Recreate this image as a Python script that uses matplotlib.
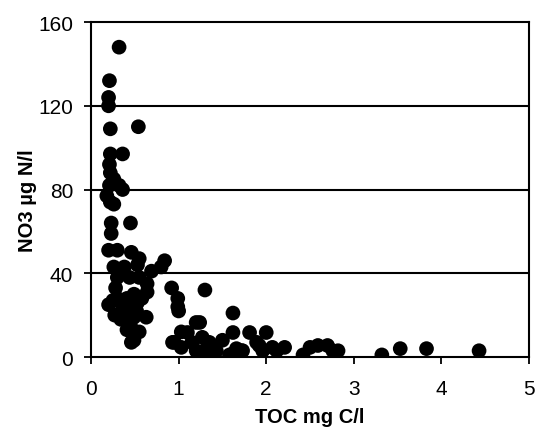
import matplotlib
matplotlib.use("Agg")
import matplotlib.pyplot as plt

# TOC (mg C/l) and NO3 (ug N/l)
toc = [0.32, 0.21, 0.20, 0.20, 0.22, 0.54, 0.22, 0.36,
       0.21, 0.22, 0.26, 0.32, 0.36, 0.21, 0.18, 0.22, 0.26,
       0.23, 0.45, 0.23, 0.20, 0.30, 0.46, 0.55, 0.38, 0.26,
       0.84, 0.80, 0.69, 0.30, 0.53, 0.44, 0.64, 0.55,
       0.92, 0.99, 0.99, 0.20, 0.30, 0.41, 0.53, 0.34, 0.63,
       0.49, 0.41, 0.55, 0.46, 0.49, 0.93, 1.03, 0.49, 0.41,
       0.64, 0.25, 1.30, 1.00, 1.62, 1.20, 1.10, 1.27, 1.62,
       1.81, 2.00, 0.95, 1.03, 1.20, 1.50, 1.43, 1.66, 1.73,
       1.89, 1.96, 1.32, 1.15, 1.27, 1.58, 1.35, 2.07, 1.92,
       2.21, 2.12, 2.42, 2.50, 2.59, 2.70, 2.82, 2.76, 3.32,
       3.53, 3.83, 4.43, 1.24, 1.41, 1.62, 1.72,
       0.28, 0.36, 0.45, 0.52, 0.58, 0.27]
no3 = [148, 132, 124, 120, 109, 110, 97, 97,
       92, 88, 85, 82, 80, 82, 77, 74, 73,
       64, 64, 59, 51, 51, 50, 47, 43, 43,
       46, 43, 41, 38, 44, 38, 35, 38,
       33, 28, 24, 25, 28, 28, 26, 18, 19,
       19, 13, 12, 7, 8, 7, 12, 30, 23,
       31, 27, 32, 22, 21, 16.5, 11.7, 9.4, 11.7,
       11.7, 11.7, 7, 4.6, 3, 8, 3, 4, 3,
       7, 3, 4, 7, 1, 1, 7, 4.6, 5.5,
       4.6, 3, 1, 4.6, 5.5, 5.5, 3, 3, 1,
       4, 4, 3, 16.5, 1.6, 1.6, 3,
       33, 24, 15, 22, 28, 20]

x_ticks = [0, 1, 2, 3, 4, 5]
y_ticks = [0, 40, 80, 120, 160]

plt.rcParams['font.family'] = ['Liberation Sans', 'DejaVu Sans']

fig = plt.figure(figsize=(5.42, 4.35), dpi=100)
ax = fig.add_axes([0.168, 0.177, 0.808, 0.770])

for y in y_ticks[1:-1]:
    ax.axhline(y, color='black', linewidth=1.5, zorder=1)

ax.scatter(toc, no3, s=112, color='black', edgecolors='none', zorder=3)

ax.set_xlim(0, 5)
ax.set_ylim(0, 160)
ax.set_xticks(x_ticks)
ax.set_yticks(y_ticks)
ax.tick_params(direction='out', length=5, width=1.3, labelsize=15)
ax.tick_params(axis='x', pad=11)
ax.tick_params(axis='y', pad=8)
for sp in ax.spines.values():
    sp.set_linewidth(1.5)
    sp.set_color('black')

ax.set_xlabel("TOC mg C/l", fontsize=14.5, fontweight='bold', labelpad=6)
ax.set_ylabel("NO3 µg N/l", fontsize=14.5, fontweight='bold', labelpad=1)
ax.yaxis.label.set_y(0.47)

fig.savefig("out.png", dpi=100)
